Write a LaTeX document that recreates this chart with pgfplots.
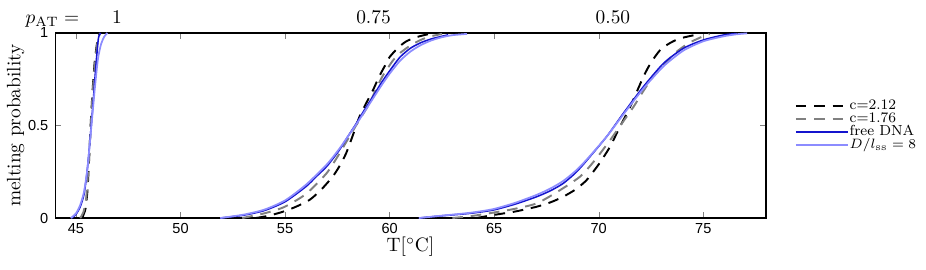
\documentclass[border=0pt]{standalone}
\usepackage{pgfplots}
\pgfplotsset{compat=1.18}
\usepackage{fontspec}
\newfontfamily\tickfont{Liberation Sans}
\definecolor{dblue}{RGB}{20,20,205}
\definecolor{lblue}{RGB}{140,140,255}
\definecolor{mgray}{RGB}{128,128,128}
\begin{document}
\begin{tikzpicture}
\begin{axis}[
  scale only axis, width=366.5pt, height=95.4pt,
  xmin=44, xmax=78, ymin=0, ymax=1,
  xtick={45,50,...,75}, ytick={0,0.5,1},
  tick align=inside, xtick pos=both, ytick pos=both,
  major tick length=3pt,
  every tick label/.append style={font=\tickfont\fontsize{7.5}{9}\selectfont},
  /pgf/number format/assume math mode=true,
  xticklabel style={inner sep=0.5pt, yshift=-2pt},
  xlabel={T[$^{\circ}$C]}, ylabel={melting probability},
  xlabel style={at={(axis description cs:0.5,-0.155)},anchor=center,inner sep=0pt},
  ylabel style={at={(axis description cs:-0.0556,0.5)},anchor=center},
  axis line style={line width=0.6pt},
  clip mode=individual,
  legend style={at={(1.04,0.5)}, anchor=west, draw=none, fill=none,
    font=\fontsize{7.5}{7.5}\selectfont, inner sep=0pt,
    nodes={text height=5pt, text depth=1.2pt, inner sep=0.3pt},
    cells={anchor=west}},
  legend image code/.code={\draw[#1] (0pt,0pt) -- (27pt,0pt);},
  every axis plot/.append style={smooth, tension=0.4},
]
% c=2.12
\addplot[black, line width=1pt, dash pattern=on 5.5pt off 4pt] coordinates {
(45.3,0) (45.4,0.03) (45.46,0.054) (45.55,0.15) (45.62,0.3) (45.7,0.5) (45.8,0.7) (45.9,0.85) (46.0,0.94) (46.07,0.98) (46.12,1.0)};
\addlegendentry{c=2.12}
% c=1.76
\addplot[mgray, line width=1pt, dash pattern=on 5.5pt off 4pt] coordinates {
(45.2,0) (45.35,0.03) (45.48,0.1) (45.58,0.25) (45.7,0.48) (45.8,0.68) (45.92,0.85) (46.03,0.95) (46.15,1.0)};
\addlegendentry{c=1.76}
% free DNA
\addplot[dblue, line width=0.8pt] coordinates {
(44.8,0) (45.0,0.02) (45.2,0.06) (45.38,0.126) (45.5,0.22) (45.6,0.33) (45.73,0.5) (45.85,0.67) (45.95,0.82) (46.07,0.97) (46.18,1.0)};
\addlegendentry{free DNA}
% D/lss=8
\addplot[lblue, line width=0.9pt] coordinates {
(44.75,0) (45.0,0.025) (45.2,0.07) (45.38,0.14) (45.55,0.27) (45.73,0.49) (45.9,0.7) (46.05,0.86) (46.2,0.94) (46.35,0.98) (46.5,1.0)};
\addlegendentry{$D/l_{\mathrm{ss}}=8$}

% p_AT = 0.75
\addplot[black, line width=1pt, dash pattern=on 5.5pt off 4pt, forget plot] coordinates {
(53.6,0) (54.2,0.012) (54.9,0.034) (55.5,0.06) (56.16,0.097) (56.7,0.15) (57.27,0.223) (57.6,0.28) (57.92,0.35) (58.25,0.45) (58.56,0.548) (58.9,0.625) (59.2,0.69) (59.5,0.765) (59.84,0.836) (60.0,0.87) (60.4,0.92) (60.8,0.955) (61.3,0.978) (61.9,0.995)};
\addplot[mgray, line width=1pt, dash pattern=on 5.5pt off 4pt, forget plot] coordinates {
(52.95,0) (54.0,0.025) (54.97,0.06) (56.0,0.13) (56.97,0.24) (57.5,0.33) (58.08,0.44) (58.5,0.52) (59.04,0.62) (59.36,0.70) (59.68,0.77) (60.15,0.85) (60.48,0.89) (60.96,0.93) (61.44,0.96) (61.9,0.98) (62.5,0.995)};
\addplot[dblue, line width=0.8pt, forget plot] coordinates {
(51.9,0) (53.0,0.015) (54.0,0.04) (55.0,0.088) (56.0,0.17) (56.5,0.225) (57.0,0.28) (57.6,0.368) (58.0,0.44) (58.4,0.51) (58.8,0.585) (59.2,0.656) (59.6,0.73) (60.0,0.795) (60.5,0.87) (61.0,0.918) (61.5,0.948) (62.0,0.968) (62.5,0.982) (62.8,0.99)};
\addplot[lblue, line width=0.9pt, forget plot] coordinates {
(51.9,0) (53.0,0.018) (54.0,0.045) (55.0,0.095) (56.0,0.18) (57.0,0.29) (57.6,0.375) (58.0,0.44) (58.4,0.505) (58.8,0.575) (59.2,0.645) (59.6,0.715) (60.0,0.78) (60.5,0.85) (61.0,0.9) (61.5,0.935) (62.0,0.96) (62.5,0.977) (63.0,0.988) (63.7,0.995)};

% p_AT = 0.50
\addplot[black, line width=1pt, dash pattern=on 5.5pt off 4pt, forget plot] coordinates {
(64.15,0) (64.95,0.016) (66.0,0.035) (67.03,0.061) (67.7,0.085) (68.3,0.115) (68.9,0.155) (69.42,0.205) (70.0,0.29) (70.54,0.385) (71.0,0.49) (71.5,0.6) (72.14,0.764) (72.5,0.84) (72.94,0.908) (73.4,0.945) (73.9,0.971) (74.85,0.995)};
\addplot[mgray, line width=1pt, dash pattern=on 5.5pt off 4pt, forget plot] coordinates {
(63.0,0) (64.0,0.012) (65.0,0.03) (66.0,0.05) (67.03,0.079) (68.0,0.14) (69.1,0.223) (69.8,0.31) (70.54,0.42) (71.1,0.51) (71.66,0.6) (72.1,0.68) (72.6,0.764) (73.2,0.84) (73.74,0.9) (74.3,0.945) (74.85,0.975) (75.3,0.995)};
\addplot[dblue, line width=0.8pt, forget plot] coordinates {
(61.4,0) (62.5,0.012) (63.83,0.025) (64.95,0.043) (66.0,0.075) (67.03,0.115) (67.7,0.148) (68.3,0.187) (68.9,0.245) (69.42,0.31) (70.38,0.44) (71.18,0.566) (72.14,0.71) (73.1,0.836) (74.05,0.917) (75.0,0.962) (75.97,0.989) (76.6,0.997)};
\addplot[lblue, line width=0.9pt, forget plot] coordinates {
(61.4,0) (62.5,0.013) (63.83,0.028) (64.95,0.048) (66.0,0.082) (67.03,0.125) (67.7,0.16) (68.3,0.2) (68.9,0.255) (69.42,0.315) (70.38,0.44) (71.18,0.56) (72.14,0.7) (73.1,0.82) (74.05,0.905) (75.0,0.955) (75.97,0.982) (76.6,0.993) (77.1,0.998)};

\node[anchor=base, yshift=5pt] at (axis cs:43.87,1) {$p_{\mathrm{AT}}=$};
\node[anchor=base, yshift=5pt] at (axis cs:46.96,1) {1};
\node[anchor=base, yshift=5pt] at (axis cs:59.23,1) {0.75};
\node[anchor=base, yshift=5pt] at (axis cs:70.68,1) {0.50};
\end{axis}
\pgfresetboundingbox
\path ([shift={(-28.4pt,-26.3pt)}]current axis.south west) rectangle ([shift={(82.5pt,17pt)}]current axis.north east);
\end{tikzpicture}
\end{document}
